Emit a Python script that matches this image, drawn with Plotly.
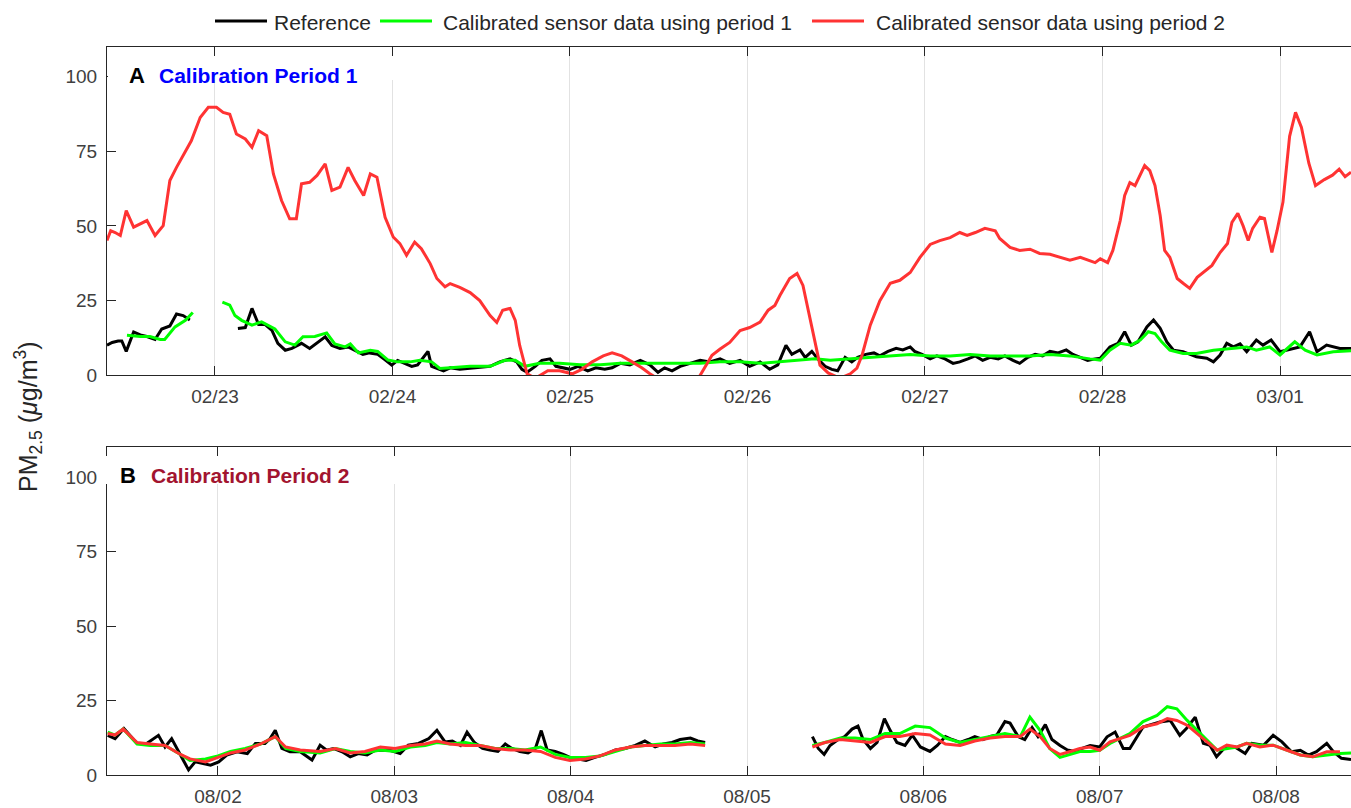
import pandas as pd
import plotly.graph_objects as go

W, H = 1351, 808

START_A = pd.Timestamp("2019-02-22")
START_B = pd.Timestamp("2019-08-01")

# ---------------- Panel A: calibration period 1 (hours since 02/22 00:00) ----------------
ref_a_hours = [9.4, 10.1, 10.9, 11.4, 12.0, 13.0, 13.9, 14.8, 15.9, 16.8, 17.9, 18.8, 19.7, 20.6, None,
               27.1, 28.1, 29.0, 29.9, 30.8, 31.7, 32.5, 33.5, 34.4, 35.7, 36.8, 37.9, 38.9, 39.8, 40.9,
               42.0, 43.1, 44.0, 44.9, 46.0, 47.0, 47.9, 48.7, 49.7, 50.6, 51.4, 52.8, 53.3, 54.9, 55.8,
               57.1, 59.2, 61.2, 62.5, 63.9, 64.8, 65.5, 66.2, 67.3, 68.2, 69.3, 70.1, 70.9, 72.0, 73.1,
               74.4, 75.5, 76.7, 77.7, 78.8, 80.1, 81.5, 82.8, 83.9, 84.8, 85.8, 86.9, 88.2, 89.6, 90.9,
               92.3, 93.6, 95.0, 96.3, 97.7, 99.0, 100.1, 101.2, 102.0, 103.1, 103.8, 104.7, 105.5, 106.5,
               107.4, 108.2, 109.2, 110.1, 110.9, 112.0, 113.1, 113.9, 115.0, 116.1, 117.0, 118.0, 118.6,
               119.6, 120.7, 121.6, 122.7, 123.8, 124.7, 125.8, 126.8, 127.8, 128.8, 129.9, 130.8, 131.9,
               132.8, 133.9, 134.9, 135.9, 136.9, 138.0, 139.1, 140.0, 141.0, 142.0, 143.0, 143.7, 145.0,
               146.1, 147.0, 147.9, 148.8, 150.0, 150.9, 151.8, 152.7, 153.6, 154.9, 156.7, 158.1, 159.0,
               159.9, 160.8, 161.7, 162.6, 163.5, 164.8, 165.7, 166.8, 168.0, 168.9, 170.7, 172.0, 173.0,
               174.3, 176.1, 177.6]
ref_a_pm = [10.1, 11, 11.5, 11.5, 8, 14.5, 13.5, 13, 12, 15.5, 16.5, 20.5, 20, 18.5, None,
            15.7, 16, 22.4, 17, 17, 15, 10.7, 8.4, 9, 10.7, 9, 11, 12.9, 10, 9,
            9.5, 8, 7, 7.5, 7, 5.2, 3.4, 5, 4, 3, 3.5, 8, 3, 1.5, 2.5,
            2, 2.5, 3, 4.5, 5.5, 4.5, 2, 1, 3, 5, 5.5, 3, 2.5, 2, 3,
            1.5, 2.5, 2, 2.5, 4, 3.5, 5, 3.5, 1, 2.5, 1.5, 3, 4, 5, 4.5,
            5.5, 4, 5, 3, 4.5, 2, 3.5, 10, 7, 8.5, 6, 8, 5.5, 3,
            2, 1.5, 6, 4.5, 6, 7, 7.5, 6.5, 8, 9, 8.5, 9.5, 8,
            7, 5.5, 6.5, 5.5, 4, 4.5, 5.5, 6.5, 5, 6, 5.5, 6.5, 5,
            4, 6, 7, 6.5, 8, 7.5, 8.5, 7, 6, 5, 5.5, 5.7, 9.5,
            10.7, 14.6, 10.1, 11.2, 16.2, 18.5, 15.7, 11.2, 8.4, 7.9, 6.2, 5.7, 4.5,
            6.8, 10.7, 9.5, 10.5, 7.9, 11.8, 10.1, 11.8, 7.9, 8.4, 9.5, 14.6, 7.9,
            10.1, 9.0, 9.0]

p1_a_hours = [12.1, 13.9, 15.2, 16.6, 17.2, 18.6, 20.0, 21.0, None,
              25.0, 26.0, 26.7, 27.6, 29.0, 30.3, 32.1, 33.5, 34.8, 35.9, 37.5, 39.1, 40.2, 41.6, 42.3,
              43.4, 45.0, 46.0, 47.4, 48.7, 50.4, 51.7, 53.3, 54.4, 55.8, 58.5, 61.2, 63.2, 64.6, 65.9,
              67.9, 70.6, 73.4, 76.1, 78.8, 81.5, 84.2, 86.9, 89.6, 92.3, 95.0, 97.7, 100.4, 103.1,
              105.1, 107.2, 109.9, 112.6, 115.3, 118.0, 120.7, 123.4, 126.1, 128.8, 131.5, 134.2,
              136.9, 139.6, 142.3, 143.7, 145.0, 146.4, 147.9, 149.1, 150.2, 151.1, 152.0, 153.1,
              154.9, 156.7, 159.0, 161.7, 163.5, 164.8, 166.6, 168.0, 170.0, 171.4, 173.0, 175.2, 177.6]
p1_a_pm = [13.4, 13, 13, 12, 12, 16.2, 18.4, 21, None,
           24.5, 23.5, 20, 18.4, 16.8, 17.9, 15.5, 11.2, 10.1, 12.9, 13, 14.2, 10.5, 9.5, 10.5,
           7.5, 8.4, 8, 5.1, 4.5, 4.5, 5, 4.5, 2.3, 2.5, 3, 3, 5, 5, 3,
           4, 4, 3.5, 3.5, 4, 4, 4, 4, 4, 4.5, 4.5, 4, 4.5, 5,
           5.5, 5, 5.5, 6, 6.5, 7, 6.5, 6.5, 7, 6.5, 6.5, 6.5,
           7, 6.5, 5.5, 5.1, 8.4, 10.7, 10.1, 11.8, 14.6, 14.0, 11.2, 8.4,
           7.3, 7.3, 8.4, 9.0, 9.5, 8.4, 9.5, 6.8, 11.2, 8.4, 6.8, 7.9, 8.2]

p2_a_hours = [9.4, 9.9, 10.5, 11.2, 12.0, 13.0, 14.8, 15.9, 17.0, 17.9, 18.8, 20.8, 22.0, 23.1, 24.2,
              25.1, 26.0, 26.9, 28.1, 29.0, 29.9, 31.0, 31.9, 33.0, 34.1, 35.0, 35.7, 36.8, 37.8, 38.9,
              39.8, 40.9, 42.0, 42.9, 44.1, 45.0, 45.9, 47.0, 48.1, 49.0, 49.9, 51.0, 51.9, 53.1, 54.0,
              55.1, 55.8, 57.1, 58.5, 59.8, 61.2, 62.1, 62.9, 63.9, 64.6, 65.2, 66.2, 67.3, 69.0, 70.6,
              72.3, 73.6, 75.0, 76.5, 77.7, 79.0, 80.4, 81.7, 82.8, 83.8, 85.5, 88.2, 89.6, 91.2, 92.3,
              93.6, 95.0, 96.3, 97.7, 98.8, 99.7, 100.4, 101.7, 102.7, 103.5, 104.5, 105.2, 105.8, 106.9,
              108.5, 109.9, 110.8, 111.5, 112.6, 113.9, 115.3, 116.6, 118.0, 119.3, 120.7, 122.0, 123.4,
              124.7, 125.7, 126.8, 128.1, 129.5, 130.1, 131.5, 132.8, 134.2, 135.5, 136.9, 138.3, 139.6,
              141.0, 142.3, 143.0, 143.7, 144.7, 145.4, 146.4, 147.0, 147.7, 148.4, 149.1, 149.7, 150.4,
              151.1, 151.8, 152.4, 153.1, 154.1, 154.9, 155.8, 156.8, 157.9, 158.8, 159.9, 160.9, 161.5,
              162.3, 163.0, 163.7, 164.3, 165.3, 165.9, 166.9, 167.6, 168.4, 169.3, 170.1, 170.9, 171.9,
              172.8, 174.0, 175.1, 176.0, 176.8, 177.6]
p2_a_pm = [45.1, 48.4, 47.8, 46.8, 55.1, 49.6, 51.8, 46.8, 50.1, 65.2, 69.6, 78.5, 86.3, 89.7, 89.7,
           88, 87.4, 80.8, 79.1, 76.3, 81.9, 80.2, 67.4, 58.5, 52.4, 52.4, 64.1, 64.6, 66.9, 70.8,
           61.9, 63, 69.6, 65.2, 60.2, 67.4, 66.3, 52.9, 46.3, 44.1, 40.2, 44.6, 42.4, 37.4, 32.4,
           29.6, 30.7, 29.4, 27.7, 25, 20, 17.7, 21.8, 22.4, 18.4, 10, 0.5, -1, 1.5, 1.5,
           0.5, 2, 4.5, 6.5, 7.5, 6.5, 4.5, 2.5, 0.5, -1, -3, -3, 0, 6.7, 8.8,
           11, 15, 16, 17.8, 21.8, 23.4, 26.8, 32.4, 34.1, 30.1, 18.4, 10, 3.4, 0.8,
           -1, 0.5, 2.4, 6.8, 16.8, 25, 30.8, 31.8, 34.4, 39.4, 43.8, 45.1, 46.1,
           47.8, 46.8, 47.8, 49.2, 48.4, 45.8, 42.8, 41.8, 42.2, 40.8, 40.5, 39.5, 38.5,
           39.5, 38.5, 37.7, 39, 37.7, 41.8, 51.8, 60.2, 64.5, 63.5, 66.9, 70.2, 68.5,
           63.5, 53.5, 41.8, 39.5, 32.4, 30.8, 29.1, 32.8, 35.1, 36.8, 41.1, 44.1, 51.2,
           54.2, 50.1, 45.1, 49.2, 52.9, 52.5, 41.1, 48.4, 58, 80, 88, 83, 71,
           63.5, 65.5, 67, 69, 66.5, 68]

# ---------------- Panel B: calibration period 2 (hours since 08/01 00:00) ----------------
ref_b_hours = [9.0, 10.0, 11.2, 13.0, 14.3, 15.9, 16.8, 17.7, 18.9, 20.0, 20.9, 21.8, 23.0, 24.1, 25.2,
               26.6, 28.0, 29.1, 30.4, 31.1, 31.8, 32.7, 33.8, 35.2, 36.8, 37.9, 38.8, 39.7, 40.9, 42.0,
               43.1, 44.3, 45.4, 47.4, 48.8, 49.9, 51.3, 52.7, 53.8, 54.9, 55.9, 57.0, 57.9, 58.9, 60.0,
               61.0, 62.1, 63.1, 64.0, 65.1, 66.2, 67.2, 68.0, 68.8, 69.9, 71.0, 71.9, 73.0, 74.1, 75.3,
               76.7, 78.1, 79.4, 80.8, 82.1, 83.5, 84.6, 85.8, 86.9, 88.3, 89.3, 90.3, None,
               104.9, 105.7, 106.5, 107.3, 108.4, 109.3, 110.3, 111.1, 111.8, 112.8, 113.7, 114.7, 115.5,
               116.4, 117.5, 118.5, 119.6, 120.9, 121.9, 123.0, 123.9, 125.0, 126.1, 127.0, 128.1, 129.1,
               130.0, 131.1, 131.8, 132.9, 133.8, 134.8, 135.6, 136.6, 137.5, 138.6, 139.6, 140.6, 141.6,
               142.7, 144.0, 145.0, 146.1, 147.2, 148.1, 149.9, 152.2, 153.6, 154.9, 155.8, 157.0, 158.1,
               159.0, 159.9, 161.1, 162.4, 163.8, 164.7, 166.3, 167.6, 168.8, 170.1, 171.3, 172.4, 173.5,
               174.9, 175.8, 176.9, 178.2]
ref_b_pm = [13.4, 12.3, 15.7, 10.7, 10.7, 13.4, 9.5, 12.3, 6.8, 1.8, 4.5, 4.0, 3.4, 4.5, 6.8,
            7.9, 7.3, 10.7, 10.7, 12.3, 15.1, 9.0, 7.9, 7.9, 5.1, 10.1, 8.4, 9.0, 7.9, 6.2,
            7.3, 6.8, 8.4, 8.4, 7.3, 10.1, 10.7, 12.3, 15.1, 11.2, 11.5, 10, 14.5, 11, 9,
            8.5, 8, 10.5, 9, 8, 7.5, 9, 15, 8.5, 8, 7, 6, 5.5, 5, 6,
            7, 8.5, 9, 10, 11.5, 9.5, 10.5, 11, 12, 12.5, 11.5, 11, None,
            13, 9, 7, 10, 12, 13, 15.5, 16.5, 12, 9, 11, 19, 15,
            11, 10, 13.5, 9.5, 8, 10, 13, 12, 11, 12, 13, 12, 13,
            13.5, 18, 17.5, 13, 12, 16, 13, 17, 12, 10, 8.5, 8, 9,
            10, 9.5, 12.9, 14.5, 9.0, 9.0, 16.2, 17.9, 18.4, 13.4, 15.7, 19.5, 10.7,
            10.1, 6.2, 9.5, 9.5, 7.3, 10.7, 10.1, 13.4, 11.2, 7.9, 8.4, 6.8, 7.9,
            10.7, 7.9, 5.7, 5.3]

cal_b_hours = [9.0, 10.0, 11.1, 13.0, 14.8, 16.8, 18.9, 20.2, 22.3, 24.0, 25.7, 27.7, 29.8, 31.8, 33.2,
               35.2, 37.9, 40.0, 42.0, 44.0, 46.1, 48.1, 50.2, 52.2, 53.8, 55.6, 57.7, 59.7, 61.7, 63.8,
               65.8, 67.9, 69.9, 71.9, 74.0, 76.0, 78.1, 80.1, 82.1, 84.2, 86.2, 88.3, 90.3, None,
               104.9, 106.6, 108.7, 110.7, 112.8, 114.8, 116.8, 118.9, 120.9, 123.0, 125.0, 127.0, 129.1,
               131.1, 133.2, 134.5, 135.9, 137.2, 138.6, 140.0, 141.3, 142.7, 144.0, 145.4, 146.8, 148.1,
               149.9, 151.8, 153.2, 154.5, 155.9, 157.2, 158.6, 160.0, 161.3, 162.7, 164.0, 165.8, 167.6,
               169.5, 171.3, 173.0, 174.9, 176.7, 178.2]
p1_b_pm = [14.5, 13.5, 15.5, 10.5, 10, 10, 7, 5, 5.5, 6.5, 8, 9, 10.5, 13, 9,
           8, 7.5, 9, 8, 7.5, 8.5, 8, 9.5, 10, 11, 10.5, 11, 10, 9, 9,
           8.5, 9.5, 7, 6, 6, 6.5, 8, 9.5, 10, 10.5, 10.5, 11, 10.5, None,
           10, 11, 12.5, 12.5, 12, 14, 14, 16.5, 16, 12.5, 11, 12, 13,
           14, 13, 19.5, 15, 9, 6, 7, 8, 8, 8.4, 10.7, 12.3, 14.0,
           18, 20.1, 23, 22.3, 18.4, 15.1, 11.8, 8.4, 9.0, 9.5, 10.7, 10.1, 10.1,
           8.4, 6.8, 6.2, 6.8, 7.3, 7.5]
p2_b_pm = [14, 13.5, 15.5, 11, 10.5, 10, 7, 5.5, 4.5, 6, 7.5, 8.5, 10.5, 13, 9.5,
           8.5, 8, 9, 7.5, 8, 9.5, 9, 10, 10.5, 11.5, 10.5, 10, 10, 9, 8.5,
           8.5, 8, 6, 5, 5.5, 6.5, 8.5, 9.5, 10, 10, 10, 10.5, 10, None,
           9.5, 11, 12, 11.5, 11, 13, 13, 14, 13.5, 10.5, 10, 11.5, 12.5,
           13, 13, 15.5, 13, 9, 7, 8, 9, 9.5, 8.4, 11.2, 12.3, 13.4,
           16.2, 17.3, 19.0, 18.4, 16.8, 14.0, 11.2, 8.4, 10.1, 9.5, 10.7, 9.5, 10.1,
           8.4, 6.8, 6.2, 7.9, 7.9, None]

# axis windows, in hours from the start of each period
range_a = [9.4, 177.6]
range_b = [8.9, 178.2]

for hs, vs in [(ref_a_hours, ref_a_pm), (p1_a_hours, p1_a_pm), (p2_a_hours, p2_a_pm),
               (ref_b_hours, ref_b_pm), (cal_b_hours, p1_b_pm), (cal_b_hours, p2_b_pm)]:
    assert len(hs) == len(vs), (len(hs), len(vs))


def to_time(start, hours):
    return [None if h is None else start + pd.Timedelta(hours=h) for h in hours]


SERIES = ["ref", "p1", "p2"]
COLORS = {"ref": "#000000", "p1": "#00FF00", "p2": "#FF3333"}
NAMES = {"ref": "Reference",
         "p1": "Calibrated sensor data using period 1",
         "p2": "Calibrated sensor data using period 2"}

FONT = "Liberation Sans, Arial, sans-serif"
fig = go.Figure()

panel_a = [("ref", ref_a_hours, ref_a_pm), ("p1", p1_a_hours, p1_a_pm), ("p2", p2_a_hours, p2_a_pm)]
panel_b = [("ref", ref_b_hours, ref_b_pm), ("p1", cal_b_hours, p1_b_pm), ("p2", cal_b_hours, p2_b_pm)]

for key, hs, vs in panel_a:
    fig.add_trace(go.Scatter(x=to_time(START_A, hs), y=vs, mode="lines", name=NAMES[key],
                             showlegend=False, line=dict(color=COLORS[key], width=3),
                             xaxis="x", yaxis="y"))
for key, hs, vs in panel_b:
    fig.add_trace(go.Scatter(x=to_time(START_B, hs), y=vs, mode="lines", name=NAMES[key],
                             showlegend=False, line=dict(color=COLORS[key], width=3),
                             xaxis="x2", yaxis="y2"))

AX = "#262626"
TICK_FONT = dict(family=FONT, size=19, color="#404040")
x_dom = [107 / W, 1.0]


def xaxis(start, rng, anchor):
    return dict(type="date", domain=x_dom, anchor=anchor,
                range=[start + pd.Timedelta(hours=rng[0]), start + pd.Timedelta(hours=rng[1])],
                tick0=start, dtick=86400000, tickformat="%m/%d",
                showgrid=True, gridcolor="#e2e2e2", gridwidth=1,
                showline=True, linecolor=AX, linewidth=1, mirror="ticks",
                ticks="inside", ticklen=9, tickwidth=1, tickcolor=AX,
                tickfont=TICK_FONT, ticklabelstandoff=4, zeroline=False)


def yaxis(dom, anchor):
    return dict(domain=dom, anchor=anchor, range=[0, 110], tickvals=[0, 25, 50, 75, 100],
                showgrid=False, showline=True, linecolor=AX, linewidth=1,
                ticks="inside", ticklen=9, tickwidth=1, tickcolor=AX,
                tickfont=TICK_FONT, ticklabelstandoff=5, zeroline=False)


fig.update_layout(
    width=W, height=H, autosize=False,
    margin=dict(l=0, r=0, t=0, b=0, autoexpand=False),
    paper_bgcolor="white", plot_bgcolor="white",
    font=dict(family=FONT, color="#262626"),
    xaxis=xaxis(START_A, range_a, "y"),
    yaxis=yaxis([1 - 375.3 / H, 1 - 46.7 / H], "x"),
    xaxis2=xaxis(START_B, range_b, "y2"),
    yaxis2=yaxis([1 - 775.3 / H, 1 - 447.3 / H], "x2"),
    showlegend=False,
)

# legend row along the top: line sample + label for each series
legend_items = {"ref": (215, 267, 272), "p1": (380, 432, 441), "p2": (812, 864, 874)}
for key in SERIES:
    x0, x1, xt = legend_items[key]
    fig.add_shape(type="line", xref="paper", yref="paper",
                  x0=x0 / W, x1=x1 / W, y0=1 - 21 / H, y1=1 - 21 / H,
                  line=dict(color=COLORS[key], width=3))
    fig.add_annotation(x=xt / W, y=1 - 22 / H, xref="paper", yref="paper",
                       xanchor="left", yanchor="middle", showarrow=False,
                       text=NAMES[key], font=dict(family=FONT, size=21, color="#262626"))

# white backing behind the panel titles (hides the grid lines there)
for x0, x1, y0, y1 in [(108, 400, 56, 80), (105, 400, 456, 484)]:
    fig.add_shape(type="rect", xref="paper", yref="paper",
                  x0=x0 / W, x1=x1 / W, y0=1 - y1 / H, y1=1 - y0 / H,
                  fillcolor="white", line=dict(width=0), layer="above")

# panel titles
titles = [(127, 157, 76, "A", "Calibration Period 1", "#0000FF"),
          (118, 149, 475.7, "B", "Calibration Period 2", "#A2142F")]
for xl, xt, yc, letter, text, color in titles:
    fig.add_annotation(x=xl / W, y=1 - yc / H, xref="paper", yref="paper",
                       xanchor="left", yanchor="middle", showarrow=False,
                       text=f"<b>{letter}</b>",
                       font=dict(family=FONT, size=22, color="#000000"))
    fig.add_annotation(x=xt / W, y=1 - yc / H, xref="paper", yref="paper",
                       xanchor="left", yanchor="middle", showarrow=False,
                       text=f"<b>{text}</b>",
                       font=dict(family=FONT, size=21, color=color))

# shared y-axis label
fig.add_annotation(x=28 / W, y=1 - 417 / H, xref="paper", yref="paper",
                   xanchor="center", yanchor="middle", showarrow=False, textangle=-90,
                   text="PM<sub>2.5</sub> (<i>μ</i>g/m<sup>3</sup>)",
                   font=dict(family=FONT, size=25, color="#262626"))

fig.write_html("out.html")
